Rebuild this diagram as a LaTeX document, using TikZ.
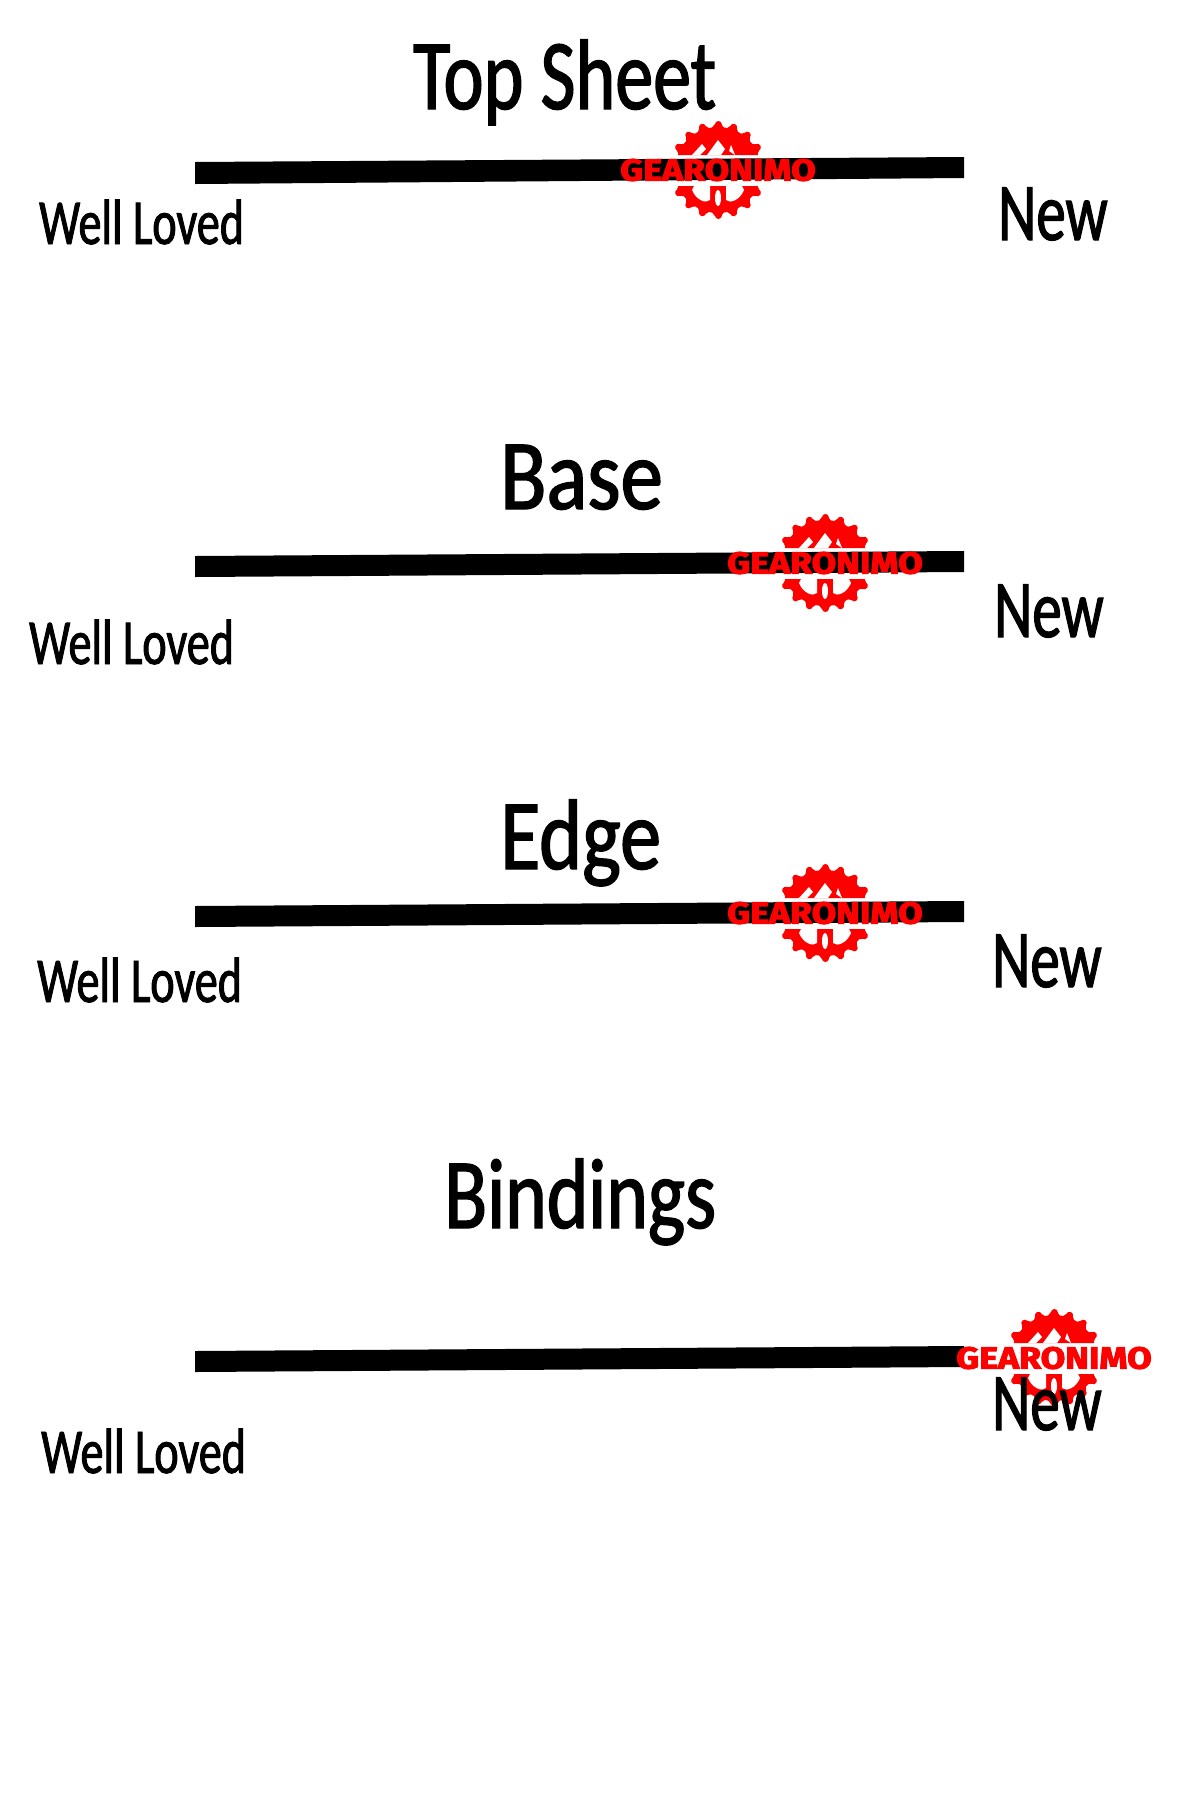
\documentclass[tikz,border=0pt]{standalone}
\usepackage{fontspec}
\setmainfont[FakeStretch=0.76,FakeBold=1.4]{Carlito}
\newfontfamily\endfont[FakeStretch=0.72,FakeBold=1.4]{Carlito}
\newfontfamily\logofont[FakeStretch=1.17,FakeBold=3.4]{Fira Sans Bold}
\definecolor{logored}{rgb}{1.000000, 0.000000, 0.000000}
\tikzset{
  sheettitle/.style={anchor=base west,inner sep=0pt,font=\fontsize{100}{100}\selectfont},
  lowend/.style={anchor=base west,inner sep=0pt,font=\endfont\fontsize{64}{64}\selectfont},
  highend/.style={anchor=base west,inner sep=0pt,font=\endfont\fontsize{82}{82}\selectfont},
  gearlogo/.pic={
    \begin{scope}
    \clip (-60,-60) rectangle (60,-15) (-60,16) rectangle (60,60);
    \fill[logored] (0,0) circle (43);
    \foreach \a in {10,30,...,350}{
      \fill[logored] (\a-9:42) -- (\a-4:46) -- (\a+4:46) -- (\a+9:42) -- cycle;
      \draw[logored,line width=7pt,line cap=round] (\a:41) -- (\a:45.5);
    }
    % mountains
    \fill[white] (-26,-15)--(-16,-26)--(-12,-21)--(-18,-15)--cycle;
    \fill[white] (-11,-15)--(0,-30)--(7,-21)--(3,-15)--cycle;
    \fill[white] (11,-19)--(13,-25)--(17,-15)--cycle;
    % chainring
    \fill[white] (-26,20)--(-24,16)--(-8,16)--(-8,30) .. controls (-12,34) and (-22,30) .. (-26,20)--cycle;
    \fill[white] (26,20)--(24,16)--(8,16)--(8,30) .. controls (12,34) and (22,30) .. (26,20)--cycle;
    \fill[white] (0,28) ellipse (3 and 8);
    \end{scope}
    \node[inner sep=0pt,text=logored,font=\logofont\fontsize{30.5}{31}\selectfont] (-name) at (0,0) {GEARONIMO};
  }
}
\begin{document}
\begin{tikzpicture}[x=1pt,y=-1pt]
\useasboundingbox[fill=white] (0,0) rectangle (1200,1800);
% bars
\fill (195,162)--(964,157)--(964,178)--(195,184)--cycle;
\fill (195,556)--(964,551)--(964,572)--(195,577)--cycle;
\fill (195,906)--(964,901)--(964,922)--(195,927)--cycle;
\fill (195,1351)--(964,1346)--(964,1367)--(195,1372)--cycle;
% logos
\pic (logotop) at (718,170) {gearlogo};
\pic (logobase) at (825,563) {gearlogo};
\pic (logoedge) at (825,913) {gearlogo};
\pic (logobind) at (1054,1358) {gearlogo};
% top sheet
\node[sheettitle] (titletop) at (413,109) {Top Sheet};
\node[lowend] (lowtop) at (39,244) {Well Loved};
\node[highend] (hightop) at (998,240) {New};
% base
\node[sheettitle] (titlebase) at (500,509) {\scalebox{1.12}[1]{Base}};
\node[lowend] (lowbase) at (29,664) {Well Loved};
\node[highend] (highbase) at (994,637) {New};
% edge
\node[sheettitle] (titleedge) at (500,869) {\scalebox{1.08}[1]{Edge}};
\node[lowend] (lowedge) at (37,1002) {Well Loved};
\node[highend] (highedge) at (992,987) {New};
% bindings
\node[sheettitle] (titlebind) at (444,1228) {\scalebox{1.04}[1]{Bindings}};
\node[lowend] (lowbind) at (41,1473) {Well Loved};
\node[highend] (highbind) at (992,1430) {New};
\end{tikzpicture}
\end{document}
